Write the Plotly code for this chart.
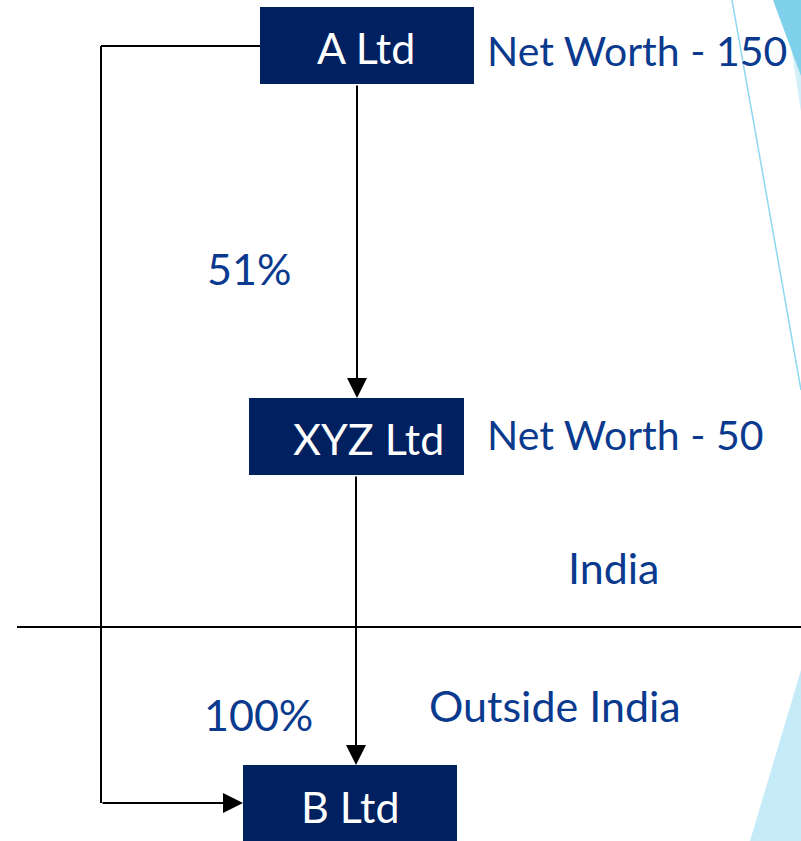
import plotly.graph_objects as go

# Entities (box labels, box extents in pixel-like diagram units)
box_names = ["A Ltd", "XYZ Ltd", "B Ltd"]
box_x0 = [260, 249, 243]
box_x1 = [474, 464, 457]
box_y0 = [7, 398, 765]
box_y1 = [84, 475, 841]
box_text_x = [366, 368, 350]
box_text_y = [47, 438, 806]

# Side labels
label_texts = ["Net Worth - 150", "Net Worth - 50", "51%", "100%", "India", "Outside India"]
label_x = [485, 485, 205, 202, 566, 427]
label_y = [50, 434, 268, 714, 567, 705]
label_size = [41, 41, 43, 43, 43, 43]

NAVY = "#002060"
TXT = "#0A3A8E"
FONT = "Lato"
FS = 43

fig = go.Figure()

shapes = []
# decorative light-blue shapes at right
shapes.append(dict(type="path", path="M 784 0 L 801 0 L 801 112 Z",
                   fillcolor="#d3f0fa", line=dict(width=0), layer="below"))
shapes.append(dict(type="path", path="M 773 0 L 801 0 L 801 76 Z",
                   fillcolor="#7fd0ea", line=dict(width=0), layer="below"))
shapes.append(dict(type="path", path="M 801 670 L 801 841 L 750 841 Z",
                   fillcolor="#c6ebf8", line=dict(width=0), layer="below"))
shapes.append(dict(type="line", x0=732, y0=0, x1=801, y1=390,
                   line=dict(color="#8ed8f0", width=1.5), layer="below"))

# boxes
for i in range(len(box_names)):
    shapes.append(dict(type="rect", x0=box_x0[i], x1=box_x1[i], y0=box_y0[i], y1=box_y1[i],
                       fillcolor=NAVY, line=dict(width=0)))

# connector lines
line_style = dict(color="black", width=2)
shapes.append(dict(type="line", x0=101, y0=46, x1=260, y1=46, line=line_style))
shapes.append(dict(type="line", x0=101, y0=46, x1=101, y1=803, line=line_style))
shapes.append(dict(type="line", x0=17, y0=627, x1=801, y1=627, line=line_style))

annotations = []
# arrows
arrows = [((101, 803), (243, 803)), ((357, 84), (357, 398)), ((356, 475), (356, 765))]
for (sx, sy), (ex, ey) in arrows:
    annotations.append(dict(x=ex, y=ey, ax=sx, ay=sy, xref="x", yref="y", axref="x", ayref="y",
                            showarrow=True, arrowhead=2, arrowsize=2, arrowwidth=2,
                            arrowcolor="black", standoff=0, text=""))

for i, name in enumerate(box_names):
    annotations.append(dict(x=box_text_x[i], y=box_text_y[i], text=name, showarrow=False,
                            xref="x", yref="y", font=dict(family=FONT, size=FS, color="white")))

for t, x, y, s in zip(label_texts, label_x, label_y, label_size):
    annotations.append(dict(x=x, y=y, text=t, showarrow=False, xref="x", yref="y",
                            xanchor="left", font=dict(family=FONT, size=s, color=TXT)))

fig.update_layout(
    width=801, height=841,
    margin=dict(l=0, r=0, t=0, b=0),
    paper_bgcolor="white", plot_bgcolor="white",
    xaxis=dict(range=[0, 801], visible=False, fixedrange=True),
    yaxis=dict(range=[841, 0], visible=False, fixedrange=True),
    shapes=shapes, annotations=annotations, showlegend=False,
)
fig.write_html("out.html", config={"displayModeBar": False},
               post_script="document.body.style.margin='0';document.body.style.overflow='hidden';")
